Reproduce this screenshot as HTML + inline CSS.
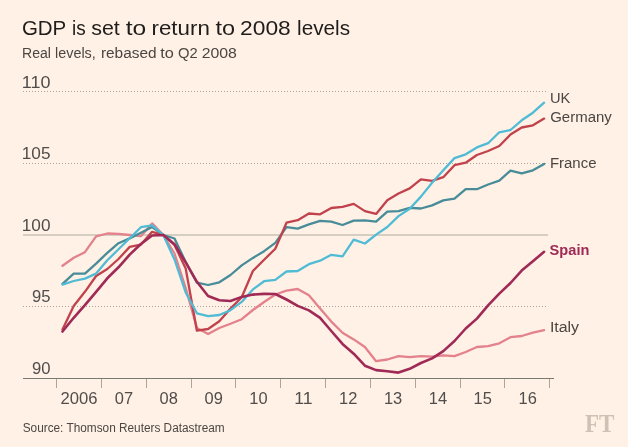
<!DOCTYPE html>
<html><head><meta charset="utf-8"><title>GDP is set to return to 2008 levels</title>
<style>
html,body{margin:0;padding:0;background:#fff1e5;}
body{width:628px;height:447px;overflow:hidden;}
svg{display:block;will-change:transform;}
text{font-family:"Liberation Sans","DejaVu Sans",sans-serif;}
.ti{font-size:20.3px;fill:#1f1d1b;}
.su{font-size:15.2px;fill:#4b4643;}
.ax{font-size:15.6px;fill:#514d4b;}
.lb{font-size:15.1px;fill:#4b4643;}
.so{font-size:12.5px;fill:#4b4643;}
.ft{font-family:"Liberation Serif","DejaVu Serif",serif;font-weight:bold;font-size:26px;fill:#cfc2b4;}
</style></head><body>
<svg width="628" height="447" viewBox="0 0 628 447">
<rect width="628" height="447" fill="#fff1e5"/>
<line x1="23" x2="548.2" y1="91.5" y2="91.5" stroke="#aaa59c" stroke-width="1" stroke-dasharray="1 2"/>
<line x1="23" x2="548.2" y1="163.5" y2="163.5" stroke="#aaa59c" stroke-width="1" stroke-dasharray="1 2"/>
<line x1="23" x2="548" y1="235" y2="235" stroke="#c9c2b5" stroke-width="1.7"/>
<line x1="23" x2="548.2" y1="306.5" y2="306.5" stroke="#aaa59c" stroke-width="1" stroke-dasharray="1 2"/>
<line x1="23" x2="554" y1="378.5" y2="378.5" stroke="#7a7a71" stroke-width="1"/>
<line x1="56.5" x2="56.5" y1="379" y2="388" stroke="#aaa794" stroke-width="1"/>
<line x1="101.5" x2="101.5" y1="379" y2="388" stroke="#aaa794" stroke-width="1"/>
<line x1="146.5" x2="146.5" y1="379" y2="388" stroke="#aaa794" stroke-width="1"/>
<line x1="191.5" x2="191.5" y1="379" y2="388" stroke="#aaa794" stroke-width="1"/>
<line x1="235.5" x2="235.5" y1="379" y2="388" stroke="#aaa794" stroke-width="1"/>
<line x1="280.5" x2="280.5" y1="379" y2="388" stroke="#aaa794" stroke-width="1"/>
<line x1="325.5" x2="325.5" y1="379" y2="388" stroke="#aaa794" stroke-width="1"/>
<line x1="370.5" x2="370.5" y1="379" y2="388" stroke="#aaa794" stroke-width="1"/>
<line x1="415.5" x2="415.5" y1="379" y2="388" stroke="#aaa794" stroke-width="1"/>
<line x1="460.5" x2="460.5" y1="379" y2="388" stroke="#aaa794" stroke-width="1"/>
<line x1="504.5" x2="504.5" y1="379" y2="388" stroke="#aaa794" stroke-width="1"/>
<line x1="549.5" x2="549.5" y1="379" y2="388" stroke="#aaa794" stroke-width="1"/>
<text x="21.8" y="87.5" class="ax" textLength="28.7" lengthAdjust="spacingAndGlyphs">110</text>
<text x="21.8" y="159.2" class="ax" textLength="28.7" lengthAdjust="spacingAndGlyphs">105</text>
<text x="21.8" y="230.8" class="ax" textLength="28.7" lengthAdjust="spacingAndGlyphs">100</text>
<text x="32.0" y="302.4" class="ax" textLength="18.5" lengthAdjust="spacingAndGlyphs">95</text>
<text x="32.0" y="374.3" class="ax" textLength="18.5" lengthAdjust="spacingAndGlyphs">90</text>
<text x="60.6" y="403.5" class="ax" textLength="37.0" lengthAdjust="spacingAndGlyphs">2006</text>
<text x="114.8" y="403.5" class="ax" textLength="18.3" lengthAdjust="spacingAndGlyphs">07</text>
<text x="159.6" y="403.5" class="ax" textLength="18.3" lengthAdjust="spacingAndGlyphs">08</text>
<text x="204.5" y="403.5" class="ax" textLength="18.3" lengthAdjust="spacingAndGlyphs">09</text>
<text x="249.3" y="403.5" class="ax" textLength="18.3" lengthAdjust="spacingAndGlyphs">10</text>
<text x="294.2" y="403.5" class="ax" textLength="18.3" lengthAdjust="spacingAndGlyphs">11</text>
<text x="339.1" y="403.5" class="ax" textLength="18.3" lengthAdjust="spacingAndGlyphs">12</text>
<text x="383.9" y="403.5" class="ax" textLength="18.3" lengthAdjust="spacingAndGlyphs">13</text>
<text x="428.8" y="403.5" class="ax" textLength="18.3" lengthAdjust="spacingAndGlyphs">14</text>
<text x="473.6" y="403.5" class="ax" textLength="18.3" lengthAdjust="spacingAndGlyphs">15</text>
<text x="518.5" y="403.5" class="ax" textLength="18.3" lengthAdjust="spacingAndGlyphs">16</text>
<path d="M62.5,265.8 L73.7,257.8 L84.9,252.2 L96.1,236.3 L107.3,233.5 L118.5,233.8 L129.7,235.0 L140.9,236.2 L152.1,223.4 L163.3,235.0 L174.5,253.5 L185.7,288.0 L196.9,328.0 L208.1,334.0 L219.3,328.0 L230.5,323.7 L241.7,319.2 L252.9,310.0 L264.1,302.0 L275.3,294.5 L286.5,290.6 L297.7,289.0 L308.9,295.3 L320.1,308.5 L331.3,321.6 L342.5,332.7 L353.7,339.4 L364.9,347.0 L376.1,361.2 L387.3,359.5 L398.5,356.2 L409.7,357.1 L420.9,356.2 L432.1,356.7 L443.3,355.3 L454.5,356.2 L465.7,352.0 L476.9,347.0 L488.1,346.1 L499.3,343.3 L510.5,337.2 L521.7,336.0 L532.9,332.7 L544.1,330.2" fill="none" stroke="#e3818c" stroke-width="2.3" stroke-linejoin="round" stroke-linecap="round"/>
<path d="M62.5,283.8 L73.7,273.7 L84.9,273.7 L96.1,263.6 L107.3,252.8 L118.5,243.2 L129.7,238.4 L140.9,232.8 L152.1,227.0 L163.3,235.0 L174.5,238.5 L185.7,262.0 L196.9,282.6 L208.1,285.0 L219.3,282.3 L230.5,275.0 L241.7,265.4 L252.9,257.9 L264.1,251.2 L275.3,242.8 L286.5,227.2 L297.7,228.6 L308.9,224.4 L320.1,220.8 L331.3,221.7 L342.5,225.0 L353.7,220.6 L364.9,220.3 L376.1,221.6 L387.3,211.6 L398.5,211.1 L409.7,207.9 L420.9,208.5 L432.1,205.4 L443.3,200.4 L454.5,198.7 L465.7,189.2 L476.9,189.2 L488.1,184.5 L499.3,180.7 L510.5,170.6 L521.7,173.3 L532.9,170.3 L544.1,163.9" fill="none" stroke="#488c99" stroke-width="2.3" stroke-linejoin="round" stroke-linecap="round"/>
<path d="M62.5,329.5 L73.7,306.0 L84.9,291.8 L96.1,276.0 L107.3,269.0 L118.5,259.0 L129.7,246.9 L140.9,244.6 L152.1,231.8 L163.3,235.0 L174.5,245.0 L185.7,268.5 L196.9,330.7 L208.1,329.0 L219.3,321.2 L230.5,308.6 L241.7,297.3 L252.9,271.0 L264.1,259.8 L275.3,248.7 L286.5,222.7 L297.7,220.2 L308.9,213.5 L320.1,214.3 L331.3,208.0 L342.5,206.8 L353.7,203.9 L364.9,211.1 L376.1,213.9 L387.3,200.2 L398.5,193.5 L409.7,188.4 L420.9,179.3 L432.1,180.8 L443.3,177.2 L454.5,165.2 L465.7,162.7 L476.9,155.0 L488.1,151.0 L499.3,146.0 L510.5,134.5 L521.7,127.5 L532.9,125.3 L544.1,118.6" fill="none" stroke="#c1424c" stroke-width="2.3" stroke-linejoin="round" stroke-linecap="round"/>
<path d="M62.5,284.6 L73.7,281.0 L84.9,278.6 L96.1,273.6 L107.3,260.3 L118.5,249.3 L129.7,238.2 L140.9,227.2 L152.1,225.3 L163.3,235.0 L174.5,259.5 L185.7,292.5 L196.9,313.3 L208.1,316.1 L219.3,315.0 L230.5,310.2 L241.7,301.9 L252.9,289.4 L264.1,281.2 L275.3,279.9 L286.5,271.5 L297.7,271.0 L308.9,264.2 L320.1,260.7 L331.3,254.8 L342.5,256.4 L353.7,239.6 L364.9,243.5 L376.1,234.6 L387.3,227.0 L398.5,216.1 L409.7,208.7 L420.9,196.6 L432.1,182.8 L443.3,170.2 L454.5,158.1 L465.7,154.3 L476.9,147.4 L488.1,143.2 L499.3,132.3 L510.5,130.0 L521.7,120.3 L532.9,112.7 L544.1,102.7" fill="none" stroke="#50bbd5" stroke-width="2.3" stroke-linejoin="round" stroke-linecap="round"/>
<path d="M62.5,331.5 L73.7,317.8 L84.9,305.2 L96.1,291.8 L107.3,278.3 L118.5,267.3 L129.7,254.6 L140.9,244.0 L152.1,235.5 L163.3,235.0 L174.5,244.3 L185.7,262.4 L196.9,281.8 L208.1,296.0 L219.3,300.2 L230.5,301.0 L241.7,296.9 L252.9,294.6 L264.1,293.9 L275.3,294.0 L286.5,299.5 L297.7,305.9 L308.9,310.4 L320.1,317.8 L331.3,331.0 L342.5,343.9 L353.7,353.7 L364.9,365.7 L376.1,370.1 L387.3,371.3 L398.5,372.6 L409.7,368.8 L420.9,363.0 L432.1,358.4 L443.3,351.1 L454.5,341.0 L465.7,328.5 L476.9,318.6 L488.1,305.3 L499.3,293.6 L510.5,283.0 L521.7,270.6 L532.9,261.3 L544.1,251.8" fill="none" stroke="#a02a56" stroke-width="2.6" stroke-linejoin="round" stroke-linecap="round"/>
<text x="549.9" y="102.5" class="lb" textLength="20.4" lengthAdjust="spacingAndGlyphs">UK</text>
<text x="550.2" y="122.3" class="lb" textLength="61.6" lengthAdjust="spacingAndGlyphs">Germany</text>
<text x="549.9" y="168.4" class="lb" textLength="46.6" lengthAdjust="spacingAndGlyphs">France</text>
<text x="549.6" y="254.7" class="lb" style="font-weight:bold;fill:#a02a56" textLength="39.8" lengthAdjust="spacingAndGlyphs">Spain</text>
<text x="549.9" y="332.4" class="lb" textLength="29.2" lengthAdjust="spacingAndGlyphs">Italy</text>
<text y="35.4" class="ti"><tspan x="21.90" textLength="44.00" lengthAdjust="spacingAndGlyphs">GDP</tspan> <tspan x="72.10" textLength="13.70" lengthAdjust="spacingAndGlyphs">is</tspan> <tspan x="91.20" textLength="28.60" lengthAdjust="spacingAndGlyphs">set</tspan> <tspan x="125.70" textLength="20.50" lengthAdjust="spacingAndGlyphs">to</tspan> <tspan x="151.50" textLength="58.30" lengthAdjust="spacingAndGlyphs">return</tspan> <tspan x="215.50" textLength="19.60" lengthAdjust="spacingAndGlyphs">to</tspan> <tspan x="240.10" textLength="50.70" lengthAdjust="spacingAndGlyphs">2008</tspan> <tspan x="297.10" textLength="53.00" lengthAdjust="spacingAndGlyphs">levels</tspan></text>
<text y="58.2" class="su"><tspan x="22.00" textLength="28.90" lengthAdjust="spacingAndGlyphs">Real</tspan> <tspan x="55.00" textLength="40.80" lengthAdjust="spacingAndGlyphs">levels,</tspan> <tspan x="100.90" textLength="55.70" lengthAdjust="spacingAndGlyphs">rebased</tspan> <tspan x="160.20" textLength="13.60" lengthAdjust="spacingAndGlyphs">to</tspan> <tspan x="178.00" textLength="19.70" lengthAdjust="spacingAndGlyphs">Q2</tspan> <tspan x="201.70" textLength="35.20" lengthAdjust="spacingAndGlyphs">2008</tspan></text>
<text x="22.7" y="432" class="so" textLength="202" lengthAdjust="spacingAndGlyphs">Source: Thomson Reuters Datastream</text>
<text x="585" y="432" class="ft" textLength="29.5" lengthAdjust="spacingAndGlyphs">FT</text>
</svg>
</body></html>
